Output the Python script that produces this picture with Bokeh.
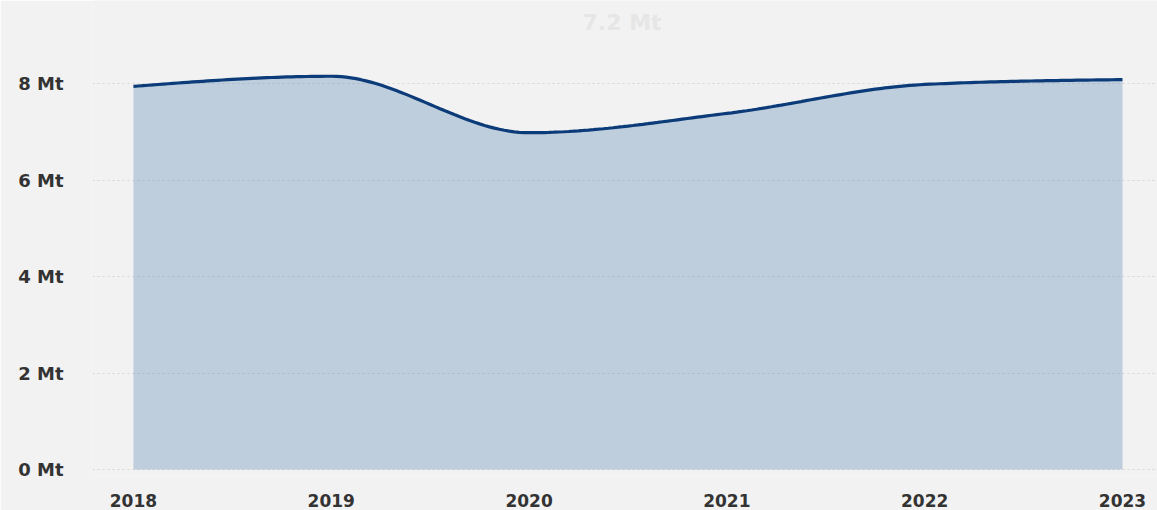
import numpy as np
from bokeh.plotting import figure
from bokeh.models import FixedTicker, CustomJSTickFormatter, Range1d, Label
from bokeh.embed import file_html
from bokeh.resources import INLINE

years = [2018, 2019, 2020, 2021, 2022, 2023]
emissions_mt = [7.94, 8.15, 6.98, 7.38, 7.98, 8.08]
y_ticks = [0, 2, 4, 6, 8]
highlight_label = "7.2 Mt"

BG = "#f2f2f2"
LINE = "#0b3b78"
TEXT = "#333333"
FONT = "DejaVu Sans"


def monotone_path(xs, ys, n=40):
    """d3-style monotone-X cubic curve, sampled for drawing the smooth line."""
    xs = np.asarray(xs, float)
    ys = np.asarray(ys, float)
    m = len(xs)
    h = np.diff(xs)
    s = np.diff(ys) / h
    t = np.zeros(m)
    for i in range(1, m - 1):
        h0, h1, s0, s1 = h[i - 1], h[i], s[i - 1], s[i]
        p = (s0 * h1 + s1 * h0) / (h0 + h1)
        t[i] = (np.sign(s0) + np.sign(s1)) * min(abs(s0), abs(s1), 0.5 * abs(p))
    t[0] = (3 * s[0] - t[1]) / 2
    t[-1] = (3 * s[-1] - t[-2]) / 2
    px, py = [], []
    for i in range(m - 1):
        dx = h[i]
        P0 = (xs[i], ys[i])
        P1 = (xs[i] + dx / 3, ys[i] + dx * t[i] / 3)
        P2 = (xs[i + 1] - dx / 3, ys[i + 1] - dx * t[i + 1] / 3)
        P3 = (xs[i + 1], ys[i + 1])
        u = np.linspace(0, 1, n, endpoint=(i == m - 2))
        a = (1 - u) ** 3
        b = 3 * (1 - u) ** 2 * u
        c = 3 * (1 - u) * u ** 2
        d = u ** 3
        px.extend(a * P0[0] + b * P1[0] + c * P2[0] + d * P3[0])
        py.extend(a * P0[1] + b * P1[1] + c * P2[1] + d * P3[1])
    return np.array(px), np.array(py)


cx, cy = monotone_path(years, emissions_mt)

p = figure(
    width=1157, height=510,
    output_backend="svg", toolbar_location=None,
    x_range=Range1d(2017.793, 2023.177),
    y_range=Range1d(-0.124, 9.72),
    min_border_left=92, min_border_right=0, min_border_top=0, min_border_bottom=35,
    background_fill_color=BG, border_fill_color=BG,
)
p.outline_line_color = None

# area
p.varea(x=cx, y1=np.zeros_like(cy), y2=cy, fill_color="#1e5a96", fill_alpha=0.24)
# line
p.line(cx, cy, line_color=LINE, line_width=3.2)

# axes
p.yaxis.ticker = FixedTicker(ticks=y_ticks)
p.yaxis.formatter = CustomJSTickFormatter(code="return tick + ' Mt';")
p.xaxis.ticker = FixedTicker(ticks=years)
for ax in (p.xaxis, p.yaxis):
    ax.axis_line_color = None
    ax.major_tick_line_color = None
    ax.minor_tick_line_color = None
    ax.major_label_text_font = FONT
    ax.major_label_text_font_style = "bold"
    ax.major_label_text_color = TEXT
p.yaxis.major_label_text_font_size = "18px"
p.xaxis.major_label_text_font_size = "17px"
p.yaxis.major_label_standoff = 23
p.xaxis.major_label_standoff = 12

p.xgrid.grid_line_color = None
p.ygrid.grid_line_color = "#d6d6d6"
p.ygrid.grid_line_dash = "2 3"
p.ygrid.grid_line_width = 1

# faint highlighted value at top
p.add_layout(Label(x=(years[2] + years[3]) / 2 - 0.03, y=9.27, text=highlight_label,
                   text_align="center", text_baseline="middle",
                   text_font=FONT, text_font_style="bold",
                   text_font_size="22px", text_color="#e6e6e6"))

open("out.html", "w").write(file_html(p, INLINE))
